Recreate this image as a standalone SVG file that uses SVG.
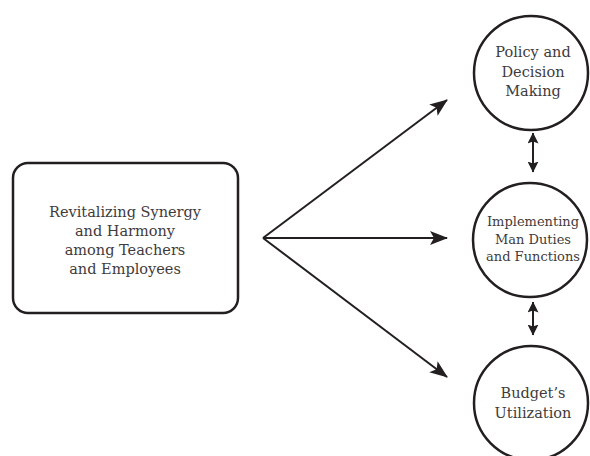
<svg xmlns="http://www.w3.org/2000/svg" width="590" height="456" viewBox="0 0 590 456">
<style>
.node{fill:#fff;stroke:#231f20;stroke-width:2.5}
.lbl{font-family:"DejaVu Serif","Liberation Serif",serif;font-size:14.5px;fill:#3f3b3c;text-anchor:middle}
.sm{font-size:13px}
.edge{stroke:#231f20;stroke-width:2;fill:none}
</style>
<defs>
<marker id="ah" markerUnits="userSpaceOnUse" markerWidth="18" markerHeight="14" viewBox="0 0 18 14" refX="17" refY="7" orient="auto-start-reverse">
<path d="M0,0 L18,7 L0,14 L4,7 z" fill="#231f20"/>
</marker>
<marker id="ah2" markerUnits="userSpaceOnUse" markerWidth="11" markerHeight="11" viewBox="0 0 11 11" refX="10.5" refY="5.5" orient="auto-start-reverse">
<path d="M0,0 L11,5.5 L0,11 L2,5.5 z" fill="#231f20"/>
</marker>
</defs>
<rect width="590" height="456" fill="#fff"/>
<g id="source">
<rect class="node" x="13" y="163" width="225" height="150" rx="15"/>
<text class="lbl" x="125" y="217">Revitalizing Synergy</text>
<text class="lbl" x="125" y="236">and Harmony</text>
<text class="lbl" x="125" y="255">among Teachers</text>
<text class="lbl" x="125" y="274">and Employees</text>
</g>
<g id="policy">
<circle class="node" cx="531" cy="73" r="57"/>
<text class="lbl" x="533" y="57">Policy and</text>
<text class="lbl" x="533" y="77">Decision</text>
<text class="lbl" x="533" y="96">Making</text>
</g>
<g id="implementing">
<circle class="node" cx="530" cy="240" r="57"/>
<text class="lbl sm" x="533" y="226">Implementing</text>
<text class="lbl sm" x="533" y="244">Man Duties</text>
<text class="lbl sm" x="533" y="261">and Functions</text>
</g>
<g id="budget">
<circle class="node" cx="531" cy="403" r="57"/>
<text class="lbl" x="533" y="398">Budget’s</text>
<text class="lbl" x="533" y="418">Utilization</text>
</g>
<g id="connectors">
<path class="edge" d="M263,238 L447,100" marker-end="url(#ah)"/>
<path class="edge" d="M263,238 L447,238" marker-end="url(#ah)"/>
<path class="edge" d="M263,238 L447,377" marker-end="url(#ah)"/>
<path class="edge" d="M533,133 L533,172" marker-start="url(#ah2)" marker-end="url(#ah2)"/>
<path class="edge" d="M533,302 L533,335" marker-start="url(#ah2)" marker-end="url(#ah2)"/>
</g>
</svg>
